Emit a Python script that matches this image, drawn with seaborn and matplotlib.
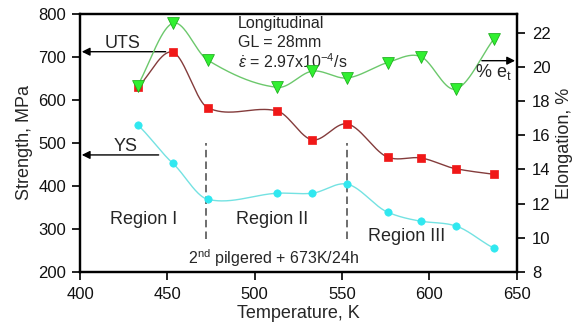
import numpy as np
import pandas as pd
import matplotlib
matplotlib.use("Agg")
import matplotlib.pyplot as plt
import seaborn as sns

# Test temperatures (K)
temperature = [433, 453, 473, 513, 533, 553, 576, 595, 615, 637]
# Ultimate tensile strength (MPa)
uts = [630, 711, 582, 574, 507, 544, 467, 465, 440, 427]
# Yield strength (MPa)
ys = [542, 453, 369, 383, 383, 404, 339, 318, 307, 255]
# Total elongation (%)
elongation = [18.9, 22.55, 20.4, 18.8, 19.75, 19.35, 20.25, 20.6, 18.7, 21.65]

x_ticks = [400, 450, 500, 550, 600, 650]
left_ticks = [200, 300, 400, 500, 600, 700, 800]
right_ticks = [8, 10, 12, 14, 16, 18, 20, 22]
region_boundaries = [472, 553]


def smooth_curve(x, y, tension=0.85, n=60):
    """Cardinal (Catmull-Rom type) spline through the points."""
    x = np.asarray(x, float)
    y = np.asarray(y, float)
    k = len(x)
    t = np.zeros(k)
    t[0] = (y[1] - y[0]) / (x[1] - x[0])
    t[-1] = (y[-1] - y[-2]) / (x[-1] - x[-2])
    for i in range(1, k - 1):
        t[i] = (y[i + 1] - y[i - 1]) / (x[i + 1] - x[i - 1])
    t *= tension
    xs_all, ys_all = [], []
    for i in range(k - 1):
        h = x[i + 1] - x[i]
        s = np.linspace(0, 1, n, endpoint=(i == k - 2))
        h00 = 2 * s**3 - 3 * s**2 + 1
        h10 = s**3 - 2 * s**2 + s
        h01 = -2 * s**3 + 3 * s**2
        h11 = s**3 - s**2
        xs_all.append(x[i] + s * h)
        ys_all.append(h00 * y[i] + h10 * h * t[i] + h01 * y[i + 1] + h11 * h * t[i + 1])
    return np.concatenate(xs_all), np.concatenate(ys_all)


sns.set_style("ticks")
plt.rcParams["font.family"] = ["Liberation Sans", "DejaVu Sans"]
plt.rcParams["mathtext.fontset"] = "custom"
plt.rcParams["mathtext.rm"] = "Liberation Sans"
plt.rcParams["mathtext.it"] = "Liberation Sans:italic"

fig = plt.figure(figsize=(5.82, 3.30), dpi=100)
ax = fig.add_axes([0.1375, 0.176, 0.7505, 0.782])
ax2 = ax.twinx()

tick_fs = 12
label_fs = 13
note_fs = 11.5
red_line = "#843c3c"
red_mark = "#f01818"
cyan_line = "#74e2e2"
cyan_mark = "#30e8f0"
green_line = "#6cc86c"
green_mark = "#30f030"

# Strength curves
sx, sy = smooth_curve(temperature, uts)
sns.lineplot(x=sx, y=sy, ax=ax, color=red_line, lw=1.0, sort=False)
sns.scatterplot(x=temperature, y=uts, ax=ax, marker="s", s=36,
                color=red_mark, edgecolor=red_mark, linewidth=0.5, zorder=5)

sx, sy = smooth_curve(temperature, ys)
sns.lineplot(x=sx, y=sy, ax=ax, color=cyan_line, lw=1.0, sort=False)
sns.scatterplot(x=temperature, y=ys, ax=ax, marker="o", s=28,
                color=cyan_mark, edgecolor=cyan_mark, linewidth=0.5, zorder=5)

# Elongation curve on the secondary axis
sx, sy = smooth_curve(temperature, elongation, tension=1.0)
sns.lineplot(x=sx, y=sy, ax=ax2, color=green_line, lw=1.0, sort=False)
sns.scatterplot(x=temperature, y=elongation, ax=ax2, marker="v", s=72,
                color=green_mark, edgecolor="#20b020", linewidth=0.6, zorder=5)

ax.set_xlim(400, 650)
ax.set_ylim(200, 800)
ax2.set_ylim(8, 23.1)
ax.set_xticks(x_ticks)
ax.set_yticks(left_ticks)
ax2.set_yticks(right_ticks)

for a in (ax, ax2):
    for sp in a.spines.values():
        sp.set_visible(True)
        sp.set_linewidth(1.6)
        sp.set_color("black")
    a.tick_params(labelsize=tick_fs, width=1.3, length=6, direction="out",
                  colors="#111111")
ax.tick_params(axis="y", pad=4)
ax.tick_params(axis="x", pad=5)
ax2.tick_params(axis="y", pad=5)

ax.set_xlabel("Temperature, K", fontsize=label_fs, labelpad=2)
ax.set_ylabel("Strength, MPa", fontsize=label_fs, labelpad=4)
ax2.set_ylabel("Elongation, %", fontsize=label_fs, labelpad=4)

# Region boundaries
for xb in region_boundaries:
    ax.plot([xb, xb], [276, 500], ls=(0, (4.5, 2.5)), color="#555555", lw=1.2)

# Series labels with arrows to their axes
arrow = dict(arrowstyle="-|>", color="black", lw=1.0,
             mutation_scale=12, shrinkA=0, shrinkB=0)
ax.annotate("", xy=(401, 712), xytext=(449, 712), arrowprops=arrow)
ax.text(424.5, 731, "UTS", fontsize=label_fs, ha="center", va="center")
ax.annotate("", xy=(401, 472), xytext=(445, 472), arrowprops=arrow)
ax.text(426, 492, "YS", fontsize=label_fs, ha="center", va="center")
ax2.annotate("", xy=(649, 20.36), xytext=(630, 20.36), arrowprops=arrow)
ax2.text(626, 19.7, r"% e$_\mathrm{t}$", fontsize=label_fs, ha="left", va="center")

# Test conditions
ax.text(490.5, 777, "Longitudinal", fontsize=note_fs, ha="left", va="center")
ax.text(490.5, 733, "GL = 28mm", fontsize=note_fs, ha="left", va="center")
ax.text(490.5, 688, r"$\dot{\varepsilon}$ = 2.97x10$^{-4}$/s", fontsize=note_fs,
        ha="left", va="center")

# Region annotations
ax.text(436.5, 323, "Region I", fontsize=label_fs, ha="center", va="center")
ax.text(510, 323, "Region II", fontsize=label_fs, ha="center", va="center")
ax.text(587, 283, "Region III", fontsize=label_fs, ha="center", va="center")
ax.text(511, 233, r"2$^{\mathrm{nd}}$ pilgered + 673K/24h", fontsize=note_fs,
        ha="center", va="center")

fig.savefig("out.png", dpi=100)
